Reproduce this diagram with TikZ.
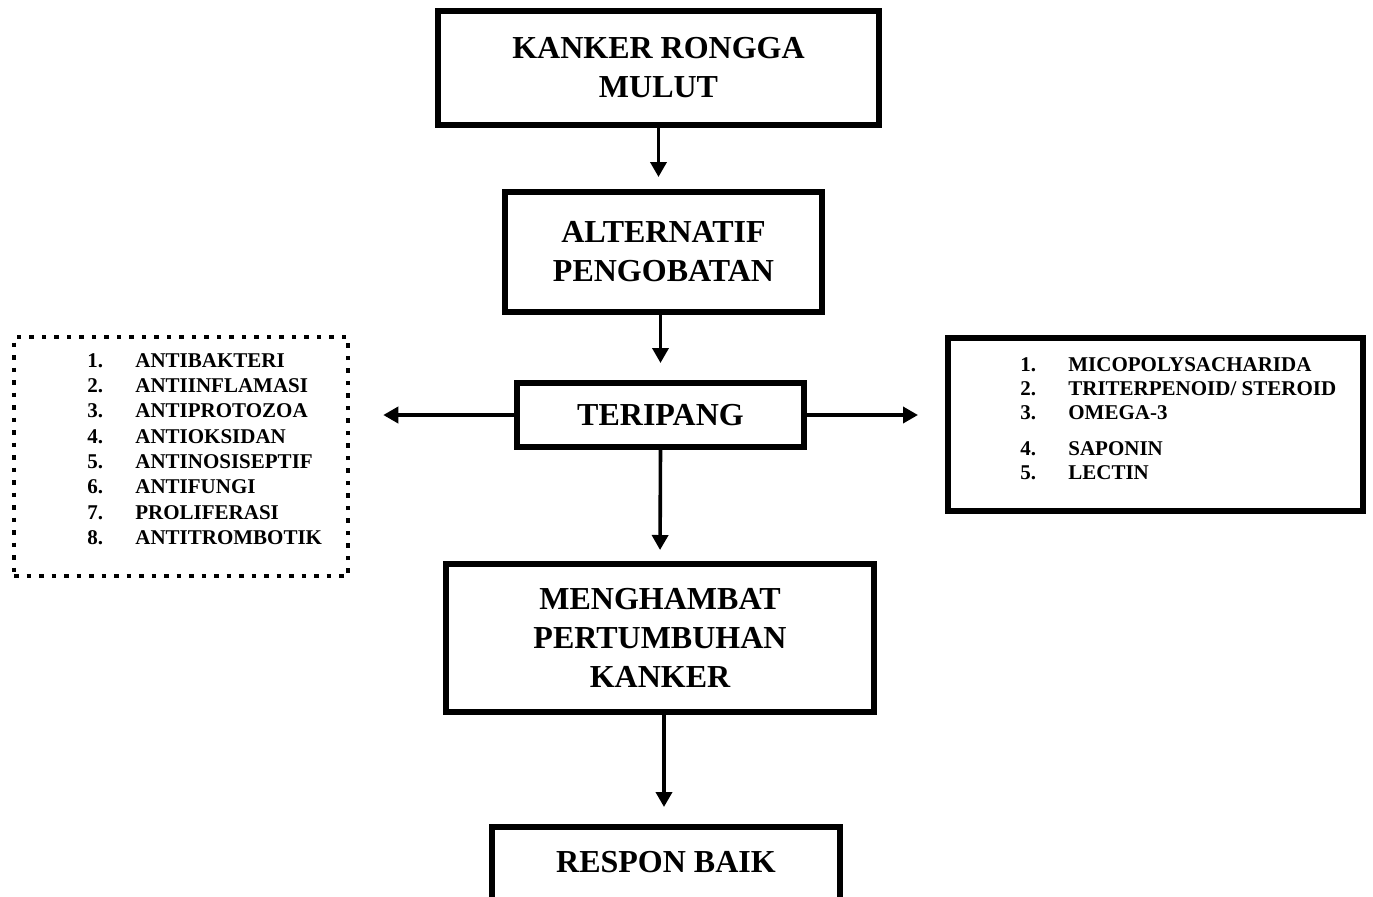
\documentclass[tikz,border=0pt]{standalone}
\usepackage{fontspec}
\setmainfont{Liberation Serif}
\usepackage{tikz}
\usetikzlibrary{arrows.meta}
\newcommand{\butir}[2]{\makebox[24pt][l]{#1}#2}

\begin{document}
\begin{tikzpicture}[x=0.5pt, y=-0.5pt,
    kotak/.style={draw=black, line width=3pt, align=center, inner sep=0pt,
      font=\fontsize{16}{19.5}\selectfont\bfseries},
    titik/.style={draw=black, line width=2.25pt, dash pattern=on 2.25pt off 4pt},
    daftar/.style={anchor=north west, align=left, inner sep=0pt},
    panah/.style={line width=1.8pt, -{Triangle[length=7.5pt, width=8pt]}}]
  \path[use as bounding box] (0,0) rectangle (1373,896);
  \clip (0,0) rectangle (1373,896);

  \node[kotak, minimum width=220.5pt, minimum height=57pt] (kanker) at (658.5,68) {KANKER RONGGA\\MULUT};
  \node[kotak, minimum width=158.5pt, minimum height=60pt] (alternatif) at (663.5,252) {ALTERNATIF\\PENGOBATAN};
  \node[kotak, minimum width=143.5pt, minimum height=32pt] (teripang) at (660.5,415) {TERIPANG};
  \node[kotak, minimum width=214pt, minimum height=74pt] (hambat) at (660,638) {MENGHAMBAT\\PERTUMBUHAN\\KANKER};
  % bawahnya terpotong
  \node[kotak, minimum width=174pt, minimum height=45pt, text depth=10pt] (respon) at (666,872) {RESPON BAIK};

  % daftar manfaat (kiri)
  \node[titik, minimum width=167pt, minimum height=119.5pt] (manfaat) at (181,456.5) {};
  \node[daftar, font=\fontsize{10.5}{12.65}\selectfont\bfseries] (manfaatteks) at (87,353)
    {\butir{1.}{ANTIBAKTERI}\\\butir{2.}{ANTIINFLAMASI}\\\butir{3.}{ANTIPROTOZOA}\\
     \butir{4.}{ANTIOKSIDAN}\\\butir{5.}{ANTINOSISEPTIF}\\\butir{6.}{ANTIFUNGI}\\
     \butir{7.}{PROLIFERASI}\\\butir{8.}{ANTITROMBOTIK}};

  % daftar kandungan (kanan)
  \node[draw=black, line width=3pt, minimum width=207.5pt, minimum height=86.5pt] (kandungan) at (1155.5,424.5) {};
  \node[daftar, font=\fontsize{10.5}{12}\selectfont\bfseries] (kandunganteks) at (1020,357)
    {\butir{1.}{MICOPOLYSACHARIDA}\\\butir{2.}{TRITERPENOID/ STEROID}\\\butir{3.}{OMEGA-3}\\[6pt]
     \butir{4.}{SAPONIN}\\\butir{5.}{LECTIN}};

  \draw[panah, shorten >=6pt] (kanker.south) -- (kanker.south |- alternatif.north);
  \draw[panah, shorten >=8.5pt] (teripang.north |- alternatif.south) -- (teripang.north);
  \draw[panah, shorten >=5.5pt] (teripang.south) -- (hambat.north);
  \draw[panah, shorten >=8.5pt] ([xshift=2pt]hambat.south) -- ([xshift=2pt]hambat.south |- respon.north);
  \draw[panah, shorten >=16.5pt] (teripang.west) -- (teripang.west -| manfaat.east);
  \draw[panah, shorten >=13.5pt] (teripang.east) -- (teripang.east -| kandungan.west);
\end{tikzpicture}
\end{document}
